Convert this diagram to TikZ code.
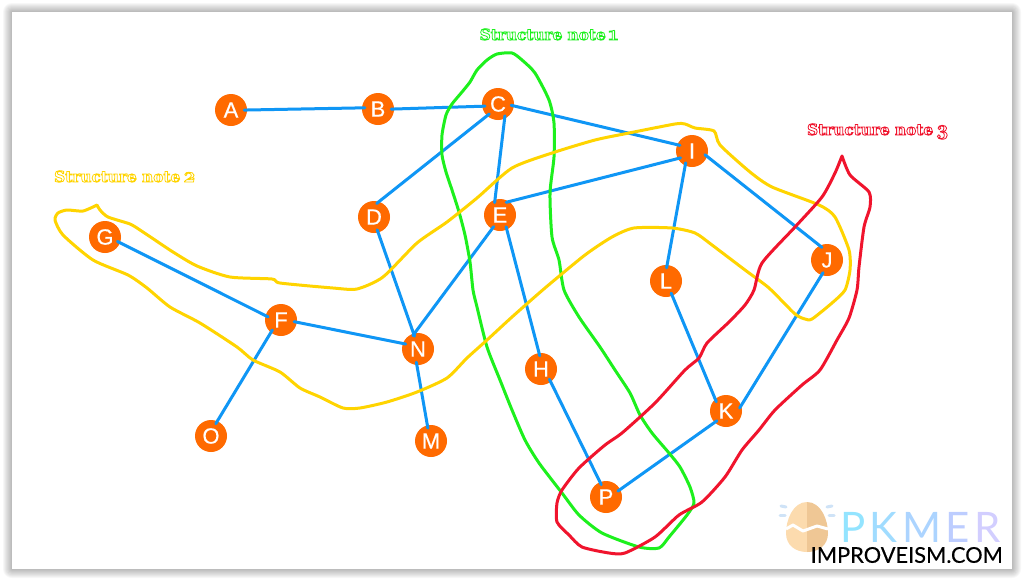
\documentclass[tikz,border=0pt]{standalone}
\usepackage{fontspec}
\setmainfont{Liberation Sans}
\newfontfamily\nodefont[FakeBold=0.5]{Liberation Sans}
\newfontfamily\notefont{DejaVu Serif}
\newfontfamily\numfont[Numbers=OldStyle]{Latin Modern Roman}
\newfontfamily\logofont{Lato}
\newfontfamily\sitefont[FakeBold=0.3]{Lato}
\definecolor{nodeorange}{HTML}{FF6A00}
\definecolor{linkblue}{HTML}{0F96F5}
\definecolor{notegreen}{HTML}{1DF01D}
\definecolor{noteyellow}{HTML}{FFD400}
\definecolor{notered}{HTML}{F0142D}
\definecolor{dropblue}{HTML}{CFE3F7}
\newcommand{\outlined}[2]{\special{pdf:code q 1 1 1 rg 2 Tr 0.8 w}#1\,{\numfont\fontsize{21}{21}\selectfont\bfseries #2}\special{pdf:code 0 Tr Q}}
\tikzset{
  vertex/.style={circle,fill=nodeorange,minimum size=32pt,inner sep=0pt,text=white,font=\nodefont\fontsize{22}{22}\selectfont},
  link/.style={draw=linkblue,line width=3pt,shorten <=-3pt,shorten >=-3pt,line cap=round},
  hand/.style={line width=3pt,line join=round,line cap=round},
  notelabel/.style={inner sep=0pt,anchor=base,font=\notefont\bfseries\fontsize{15.3}{15.3}\selectfont},
  drop/.style={draw=dropblue,line width=3pt,line cap=round},
}
\begin{document}
\begin{tikzpicture}[x=1pt,y=-1pt]
\useasboundingbox (0,0) rectangle (1024,581);
\fill[white] (0,0) rectangle (1024,581);
% card shadow
\foreach \d in {9,8,...,1}{
  \fill[black,opacity=0.03,rounded corners=\d pt] (12-\d,12-\d) rectangle (1012+\d,569+\d);
}
\fill[white] (12,12) rectangle (1012,569);
% nodes
\node[vertex] (A) at (231,110) {A};
\node[vertex] (B) at (378,109) {B};
\node[vertex] (C) at (498,104) {C};
\node[vertex] (D) at (374,217) {D};
\node[vertex] (E) at (500,215) {E};
\node[vertex] (F) at (281,320) {F};
\node[vertex] (G) at (105,237) {G};
\node[vertex] (H) at (541,369) {H};
\node[vertex] (I) at (692,151) {I};
\node[vertex] (J) at (827,260) {J};
\node[vertex] (K) at (726,411) {K};
\node[vertex] (L) at (666,281) {L};
\node[vertex] (M) at (431,441) {M};
\node[vertex] (N) at (418,349) {N};
\node[vertex] (O) at (211,436) {O};
\node[vertex] (P) at (606,497) {P};
% connectors
\foreach \a/\p/\b/\q in {A/0/B/176,B/0/C/188,C/227/D/72,C/-66/E/108,C/-7/I/157,E/56/I/208,E/240/N/102,D/-75/N/106,E/-65/H/97,H/-53/P/112,F/164/G/-21,F/-8/N/160,F/231/O/67,N/-94/M/103,I/245/L/86,I/-20/J/117,J/250/K/20,L/-67/K/132,K/225/P/28}{
  \draw[link] (\a.\p) -- (\b.\q);
}
% green outline
\draw[hand,draw=notegreen] plot[smooth cycle,tension=0.4] coordinates {
(512,53)(497,54)(487,60)(477,70)(470,82)(462,92)(452,104)(446,115)(442,135)(442,155)(446,172)(452,190)(459,212)(465,235)(470,262)(473,290)(477,307)(487,347)(500,380)(512,410)(525,440)(539,463)(562,493)(579,515)(602,533)(639,547)(659,548)(669,537)(687,515)(694,503)(690,487)(680,467)(669,453)(652,433)(640,415)(630,393)(615,370)(600,347)(579,317)(564,290)(559,260)(552,237)(550,193)(554,157)(554,123)(549,100)(535,73)(522,60)};
% yellow outline
\draw[hand,draw=noteyellow] plot[smooth,tension=0.4] coordinates {
(97,205)(100,210)(108,217)(130,224)(140,230)(152,238)(173,252)(197,266)(230,277)(272,279)(280,283)(333,288)(357,289)(383,277)(417,243)(447,222)(477,198)(512,168)(552,153)(595,140)(629,133)(675,124)(685,124)(695,128)(714,131)(720,145)(750,172)(772,187)(819,205)(835,217)(849,250)(850,270)(845,290)(832,303)(812,319)(805,319)(795,314)(769,288)(745,270)(712,245)(695,233)(672,228)(634,228)(612,237)(585,255)(545,288)(512,317)(487,340)(467,358)(447,378)(417,392)(387,402)(360,408)(343,408)(320,397)(300,388)(280,372)(253,360)(237,347)(200,323)(170,307)(147,288)(128,275)(93,260)(63,235)(55,220)(58,213)(67,210)(83,211)(97,205)};
% red outline
\draw[hand,draw=notered] plot[smooth,tension=0.4] coordinates {
(842,156)(850,175)(869,192)(870,207)(864,227)(859,267)(857,290)(849,318)(837,340)(820,370)(802,385)(775,410)(759,430)(742,450)(725,477)(702,502)(679,515)(655,537)(625,553)(609,553)(582,547)(569,535)(557,522)(557,503)(562,490)(579,468)(605,445)(622,433)(655,403)(685,370)(699,358)(707,343)(729,322)(745,305)(754,290)(762,263)(795,227)(822,197)(835,173)(842,156)};
% note labels
\node[notelabel,text=notegreen] (note1) at (549,40) {\outlined{Structure note}{1}};
\node[notelabel,text=noteyellow] (note2) at (125,182) {\outlined{Structure note}{2}};
\node[notelabel,text=notered] (note3) at (878,135) {\outlined{Structure note}{3}};
% logo egg
\draw[drop] (781,506) -- (786,507);
\draw[drop] (780,515) -- (785,515);
\draw[drop] (827,507) -- (832,506);
\draw[drop] (829,515) -- (834,515);
\fill[fill={rgb,255:red,252;green,219;blue,174}] (807,502) .. controls (793,502) and (786,520) .. (786,533) .. controls (786,545) and (795,552) .. (807,552) -- cycle;
\fill[fill={rgb,255:red,239;green,199;blue,149}] (807,502) .. controls (821,502) and (828,520) .. (828,533) .. controls (828,545) and (819,552) .. (807,552) -- cycle;
\draw[white,line width=3pt,line join=round] (786,529) -- (793,525) -- (803,531) -- (817,526) -- (828,529);
\node[inner sep=0pt,anchor=west,font=\logofont\fontsize{42}{42}\selectfont] (pkmer) at (840,527) {\textcolor[HTML]{93E4FF}{P}\hspace{4.5pt}\textcolor[HTML]{A0DCFF}{K}\hspace{4.5pt}\textcolor[HTML]{ACD4FF}{M}\hspace{4.5pt}\textcolor[HTML]{BDCDFF}{E}\hspace{4.5pt}\textcolor[HTML]{D2CEFF}{R}};
\node[inner sep=0pt,anchor=east,text=black,font=\sitefont\fontsize{21.8}{21.8}\selectfont] (site) at (1003,555) {IMPROVEISM.COM};
\end{tikzpicture}
\end{document}
